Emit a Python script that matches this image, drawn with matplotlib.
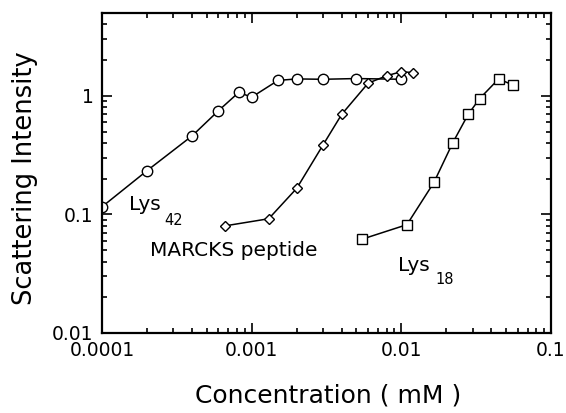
import matplotlib
matplotlib.use("Agg")
import matplotlib.pyplot as plt
from matplotlib.ticker import LogLocator, FixedLocator, FixedFormatter, NullFormatter

plt.rcParams['font.family'] = ['DejaVu Sans']

lys42_x = [0.0001, 0.0002, 0.0004, 0.0006, 0.00082, 0.001, 0.0015, 0.002, 0.003, 0.005, 0.01]
lys42_y = [0.116, 0.234, 0.46, 0.75, 1.07, 0.975, 1.35, 1.39, 1.38, 1.40, 1.38]

marcks_x = [0.00066, 0.0013, 0.002, 0.003, 0.004, 0.006, 0.008, 0.010, 0.012]
marcks_y = [0.080, 0.092, 0.166, 0.386, 0.70, 1.28, 1.48, 1.60, 1.57]

lys18_x = [0.0055, 0.0109, 0.0165, 0.0221, 0.028, 0.0334, 0.0447, 0.056]
lys18_y = [0.062, 0.082, 0.186, 0.404, 0.70, 0.95, 1.39, 1.23]

xticks = [0.0001, 0.001, 0.01, 0.1]
xticklabels = ["0.0001", "0.001", "0.01", "0.1"]
yticks = [0.01, 0.1, 1]
yticklabels = ["0.01", "0.1", "1"]

fig = plt.figure(figsize=(5.66, 4.13), dpi=100)
ax = fig.add_axes([102/566, 1-333/413, 449/566, 320/413])

ax.plot(lys42_x, lys42_y, '-', color='black', lw=1.1, marker='o', ms=7.5, mfc='white', mec='black', mew=1.0)
ax.plot(marcks_x, marcks_y, '-', color='black', lw=1.1, marker='D', ms=5, mfc='white', mec='black', mew=1.0)
ax.plot(lys18_x, lys18_y, '-', color='black', lw=1.1, marker='s', ms=7, mfc='white', mec='black', mew=1.0)

ax.set_xscale('log')
ax.set_yscale('log')
ax.set_xlim(0.0001, 0.1)
ax.set_ylim(0.01, 5)

ax.xaxis.set_major_locator(FixedLocator(xticks))
ax.xaxis.set_major_formatter(FixedFormatter(xticklabels))
ax.yaxis.set_major_locator(FixedLocator(yticks))
ax.yaxis.set_major_formatter(FixedFormatter(yticklabels))
ax.xaxis.set_minor_locator(LogLocator(base=10, subs=range(2, 10)))
ax.yaxis.set_minor_locator(LogLocator(base=10, subs=range(2, 10)))
ax.xaxis.set_minor_formatter(NullFormatter())
ax.yaxis.set_minor_formatter(NullFormatter())

ax.tick_params(which='both', direction='in', top=True, right=True, labelsize=13.5, width=1.2)
ax.tick_params(which='major', length=7, pad=6)
ax.tick_params(which='minor', length=3.5)
for s in ax.spines.values():
    s.set_linewidth(1.6)

fig.text(328/566, 1-396/413, "Concentration ( mM )", fontsize=18, ha='center', va='center')
fig.text(25/566, 1-178/413, "Scattering Intensity", fontsize=18.5, ha='center', va='center', rotation=90)

ax.text(0.060, 0.40, "Lys", transform=ax.transAxes, fontsize=14.5, ha='left', va='center')
ax.text(0.138, 0.353, "42", transform=ax.transAxes, fontsize=10.5, ha='left', va='center')
ax.text(0.107, 0.257, "MARCKS peptide", transform=ax.transAxes, fontsize=14.5, ha='left', va='center')
ax.text(0.660, 0.210, "Lys", transform=ax.transAxes, fontsize=14.5, ha='left', va='center')
ax.text(0.742, 0.168, "18", transform=ax.transAxes, fontsize=10.5, ha='left', va='center')

fig.savefig("out.png", dpi=100)
